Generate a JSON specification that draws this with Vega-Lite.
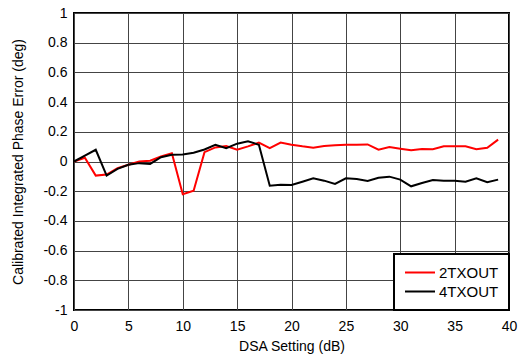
{
  "$schema": "https://vega.github.io/schema/vega-lite/v6.json",
  "autosize": "none",
  "width": 435,
  "height": 297,
  "padding": {"left": 74, "top": 13, "right": 12, "bottom": 44},
  "background": "white",
  "config": {
    "font": "Liberation Sans",
    "view": {"stroke": "black", "strokeWidth": 2},
    "axis": {
      "labelFont": "Liberation Sans",
      "titleFont": "Liberation Sans",
      "labelFontSize": 14,
      "titleFontSize": 14,
      "labelColor": "black",
      "titleColor": "black",
      "titleFontWeight": "normal",
      "gridColor": "#444444",
      "gridOpacity": 1,
      "gridWidth": 1,
      "ticks": false,
      "domain": false
    },
    "legend": {
      "labelFont": "Liberation Sans",
      "labelFontSize": 15,
      "labelColor": "black",
      "strokeWidth": 2
    }
  },
  "data": {
    "values": [
      {"dsa": 0, "s": "2TXOUT", "v": 0.0},
      {"dsa": 1, "s": "2TXOUT", "v": 0.025},
      {"dsa": 2, "s": "2TXOUT", "v": -0.095},
      {"dsa": 3, "s": "2TXOUT", "v": -0.088},
      {"dsa": 4, "s": "2TXOUT", "v": -0.045},
      {"dsa": 5, "s": "2TXOUT", "v": -0.022},
      {"dsa": 6, "s": "2TXOUT", "v": 0.0},
      {"dsa": 7, "s": "2TXOUT", "v": 0.005},
      {"dsa": 8, "s": "2TXOUT", "v": 0.034},
      {"dsa": 9, "s": "2TXOUT", "v": 0.056},
      {"dsa": 10, "s": "2TXOUT", "v": -0.22},
      {"dsa": 11, "s": "2TXOUT", "v": -0.197},
      {"dsa": 12, "s": "2TXOUT", "v": 0.063},
      {"dsa": 13, "s": "2TXOUT", "v": 0.095},
      {"dsa": 14, "s": "2TXOUT", "v": 0.104},
      {"dsa": 15, "s": "2TXOUT", "v": 0.079},
      {"dsa": 16, "s": "2TXOUT", "v": 0.102},
      {"dsa": 17, "s": "2TXOUT", "v": 0.127},
      {"dsa": 18, "s": "2TXOUT", "v": 0.09},
      {"dsa": 19, "s": "2TXOUT", "v": 0.127},
      {"dsa": 20, "s": "2TXOUT", "v": 0.113},
      {"dsa": 21, "s": "2TXOUT", "v": 0.102},
      {"dsa": 22, "s": "2TXOUT", "v": 0.093},
      {"dsa": 23, "s": "2TXOUT", "v": 0.104},
      {"dsa": 24, "s": "2TXOUT", "v": 0.109},
      {"dsa": 25, "s": "2TXOUT", "v": 0.113},
      {"dsa": 26, "s": "2TXOUT", "v": 0.113},
      {"dsa": 27, "s": "2TXOUT", "v": 0.115},
      {"dsa": 28, "s": "2TXOUT", "v": 0.079},
      {"dsa": 29, "s": "2TXOUT", "v": 0.097},
      {"dsa": 30, "s": "2TXOUT", "v": 0.086},
      {"dsa": 31, "s": "2TXOUT", "v": 0.075},
      {"dsa": 32, "s": "2TXOUT", "v": 0.084},
      {"dsa": 33, "s": "2TXOUT", "v": 0.082},
      {"dsa": 34, "s": "2TXOUT", "v": 0.102},
      {"dsa": 35, "s": "2TXOUT", "v": 0.102},
      {"dsa": 36, "s": "2TXOUT", "v": 0.102},
      {"dsa": 37, "s": "2TXOUT", "v": 0.082},
      {"dsa": 38, "s": "2TXOUT", "v": 0.093},
      {"dsa": 39, "s": "2TXOUT", "v": 0.147},
      {"dsa": 0, "s": "4TXOUT", "v": 0.0},
      {"dsa": 1, "s": "4TXOUT", "v": 0.04},
      {"dsa": 2, "s": "4TXOUT", "v": 0.079},
      {"dsa": 3, "s": "4TXOUT", "v": -0.095},
      {"dsa": 4, "s": "4TXOUT", "v": -0.05},
      {"dsa": 5, "s": "4TXOUT", "v": -0.022},
      {"dsa": 6, "s": "4TXOUT", "v": -0.011},
      {"dsa": 7, "s": "4TXOUT", "v": -0.016},
      {"dsa": 8, "s": "4TXOUT", "v": 0.029},
      {"dsa": 9, "s": "4TXOUT", "v": 0.045},
      {"dsa": 10, "s": "4TXOUT", "v": 0.047},
      {"dsa": 11, "s": "4TXOUT", "v": 0.059},
      {"dsa": 12, "s": "4TXOUT", "v": 0.081},
      {"dsa": 13, "s": "4TXOUT", "v": 0.113},
      {"dsa": 14, "s": "4TXOUT", "v": 0.09},
      {"dsa": 15, "s": "4TXOUT", "v": 0.12},
      {"dsa": 16, "s": "4TXOUT", "v": 0.136},
      {"dsa": 17, "s": "4TXOUT", "v": 0.113},
      {"dsa": 18, "s": "4TXOUT", "v": -0.163},
      {"dsa": 19, "s": "4TXOUT", "v": -0.156},
      {"dsa": 20, "s": "4TXOUT", "v": -0.158},
      {"dsa": 21, "s": "4TXOUT", "v": -0.136},
      {"dsa": 22, "s": "4TXOUT", "v": -0.113},
      {"dsa": 23, "s": "4TXOUT", "v": -0.129},
      {"dsa": 24, "s": "4TXOUT", "v": -0.151},
      {"dsa": 25, "s": "4TXOUT", "v": -0.113},
      {"dsa": 26, "s": "4TXOUT", "v": -0.118},
      {"dsa": 27, "s": "4TXOUT", "v": -0.131},
      {"dsa": 28, "s": "4TXOUT", "v": -0.11},
      {"dsa": 29, "s": "4TXOUT", "v": -0.102},
      {"dsa": 30, "s": "4TXOUT", "v": -0.122},
      {"dsa": 31, "s": "4TXOUT", "v": -0.167},
      {"dsa": 32, "s": "4TXOUT", "v": -0.145},
      {"dsa": 33, "s": "4TXOUT", "v": -0.124},
      {"dsa": 34, "s": "4TXOUT", "v": -0.129},
      {"dsa": 35, "s": "4TXOUT", "v": -0.129},
      {"dsa": 36, "s": "4TXOUT", "v": -0.136},
      {"dsa": 37, "s": "4TXOUT", "v": -0.113},
      {"dsa": 38, "s": "4TXOUT", "v": -0.14},
      {"dsa": 39, "s": "4TXOUT", "v": -0.122}
    ]
  },
  "mark": {"type": "line", "strokeWidth": 2, "clip": true},
  "encoding": {
    "x": {
      "field": "dsa",
      "type": "quantitative",
      "scale": {"domain": [0, 40], "nice": false},
      "axis": {
        "title": "DSA Setting (dB)",
        "values": [0, 5, 10, 15, 20, 25, 30, 35, 40],
        "labelPadding": 9,
        "titlePadding": 6,
        "labelFlush": false
      }
    },
    "y": {
      "field": "v",
      "type": "quantitative",
      "scale": {"domain": [-1, 1], "nice": false},
      "axis": {
        "title": "Calibrated Integrated Phase Error (deg)",
        "values": [-1, -0.8, -0.6, -0.4, -0.2, 0, 0.2, 0.4, 0.6, 0.8, 1],
        "labelExpr": "replace(format(datum.value, '~g'), '\u2212', '-')",
        "labelPadding": 7,
        "titlePadding": 17,
        "labelFlush": false
      }
    },
    "color": {
      "field": "s",
      "type": "nominal",
      "scale": {"domain": ["2TXOUT", "4TXOUT"], "range": ["#ff0000", "#000000"]},
      "legend": {
        "title": null,
        "orient": "bottom-right",
        "offset": 0,
        "strokeColor": "black",
        "fillColor": "white",
        "padding": 10,
        "symbolType": "M-1,0H3",
        "symbolSize": 225,
        "symbolStrokeWidth": 2,
        "labelOffset": 18,
        "rowPadding": 2
      }
    }
  }
}
